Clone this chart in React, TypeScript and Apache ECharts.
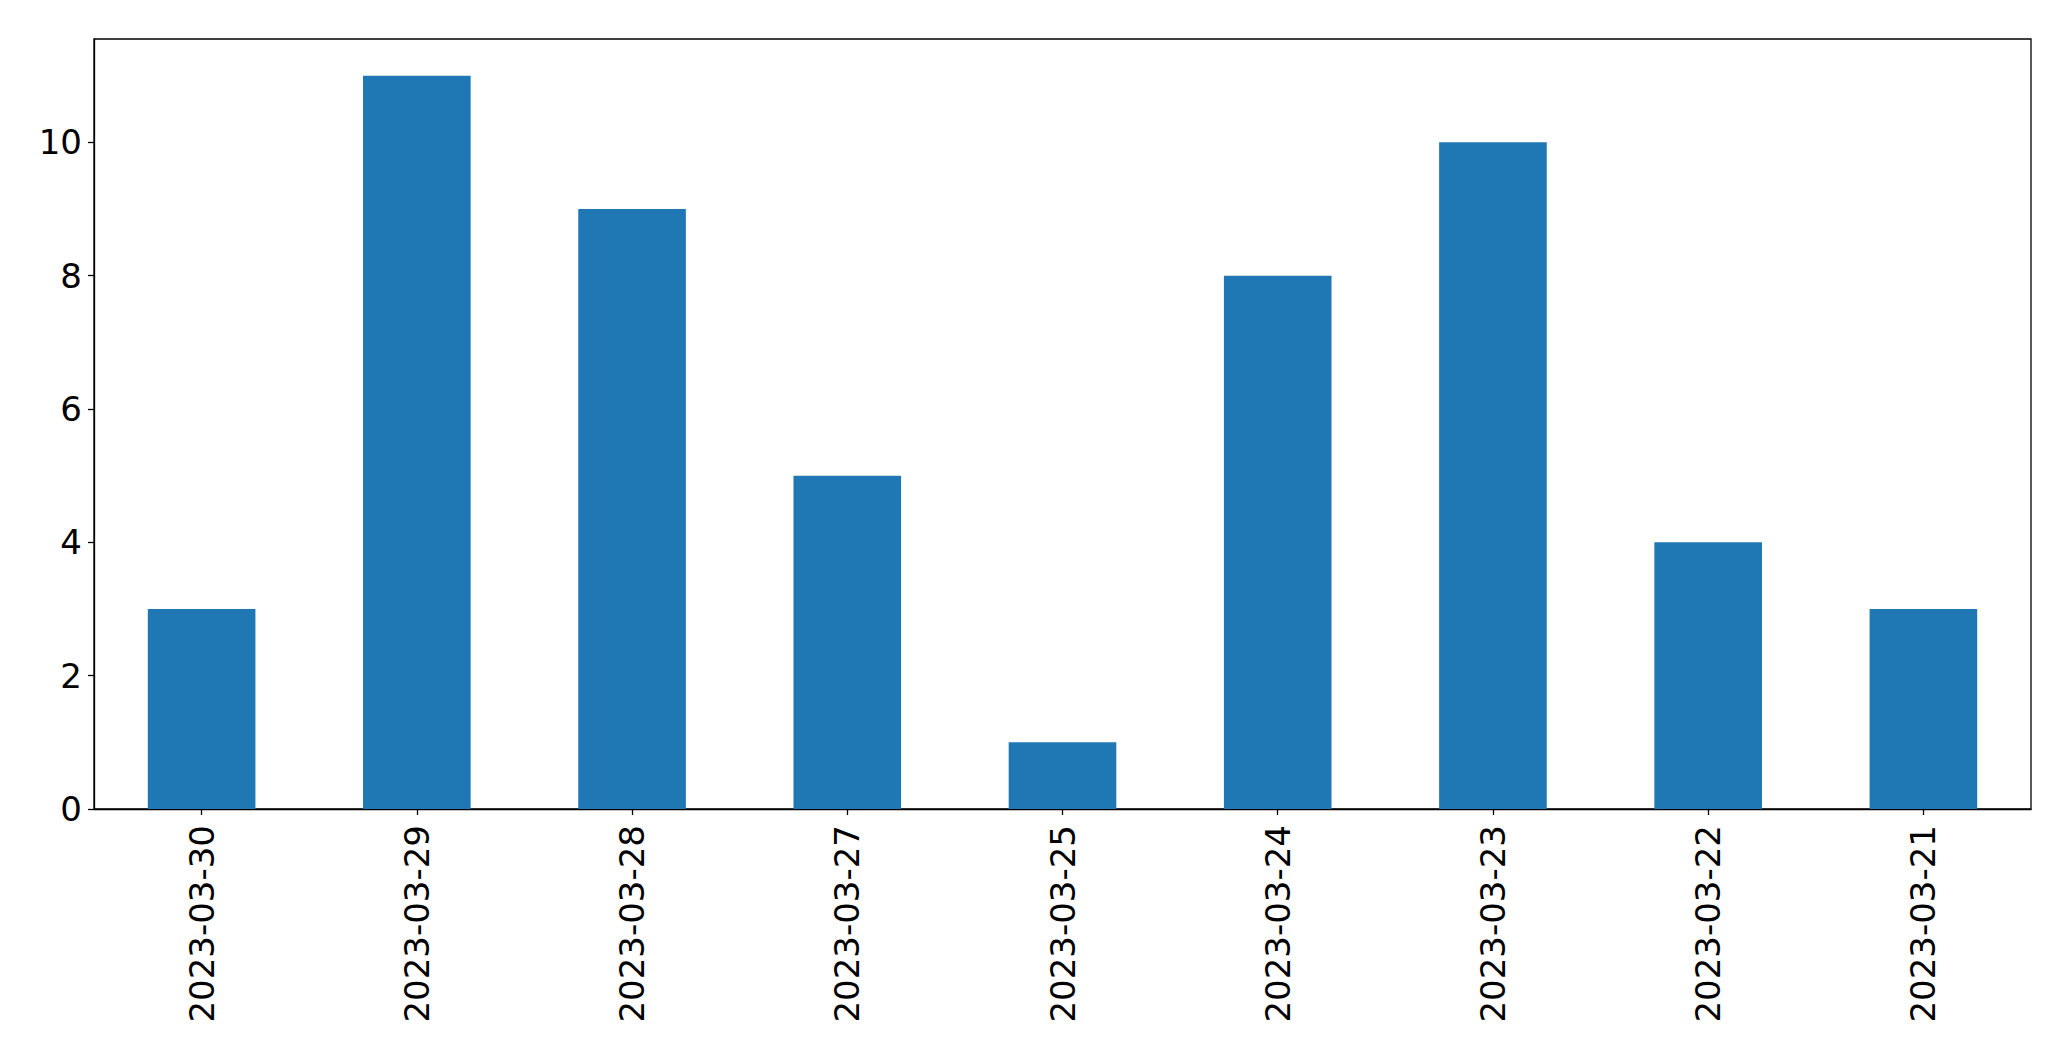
import React, { useEffect, useRef } from "react";
import * as echarts from "echarts";

const categories = [
  "2023-03-30",
  "2023-03-29",
  "2023-03-28",
  "2023-03-27",
  "2023-03-25",
  "2023-03-24",
  "2023-03-23",
  "2023-03-22",
  "2023-03-21",
];
const values = [3, 11, 9, 5, 1, 8, 10, 4, 3];
const yTicks = [0, 2, 4, 6, 8, 10];

export default function App() {
  const ref = useRef<HTMLDivElement>(null);
  useEffect(() => {
    if (!ref.current) return;
    const chart = echarts.init(ref.current, null, { renderer: "svg" });
    const font = "DejaVu Sans";
    chart.setOption({
      animation: false,
      backgroundColor: "#ffffff",
      grid: {
        left: 94,
        right: 40,
        top: 39,
        bottom: 252,
        show: true,
        borderColor: "#000",
        borderWidth: 1.3,
        containLabel: false,
      },
      xAxis: {
        type: "category",
        data: categories,
        boundaryGap: true,
        axisLine: { show: true, lineStyle: { color: "#000", width: 1.3 } },
        axisTick: { show: true, alignWithLabel: true, length: 6, lineStyle: { color: "#000", width: 1.3 } },
        axisLabel: {
          rotate: 90,
          margin: 16,
          color: "#000",
          fontFamily: font,
          fontSize: 34,
          interval: 0,
        },
        splitLine: { show: false },
      },
      yAxis: {
        type: "value",
        min: 0,
        max: 11.55,
        interval: 2,
        axisLine: { show: true, lineStyle: { color: "#000", width: 1.3 } },
        axisTick: { show: true, length: 6, lineStyle: { color: "#000", width: 1.3 } },
        axisLabel: {
          margin: 12,
          color: "#000",
          fontFamily: font,
          fontSize: 34,
          showMaxLabel: false,
          formatter: (v: number) => (yTicks.includes(v) ? String(v) : ""),
        },
        splitLine: { show: false },
      },
      series: [
        {
          type: "bar",
          data: values,
          barWidth: "50%",
          itemStyle: { color: "#1f77b4" },
        },
      ],
    });
    return () => chart.dispose();
  }, []);
  return (
    <div
      ref={ref}
      style={{ position: "absolute", left: 0, top: 0, width: 2071, height: 1061 }}
    />
  );
}
